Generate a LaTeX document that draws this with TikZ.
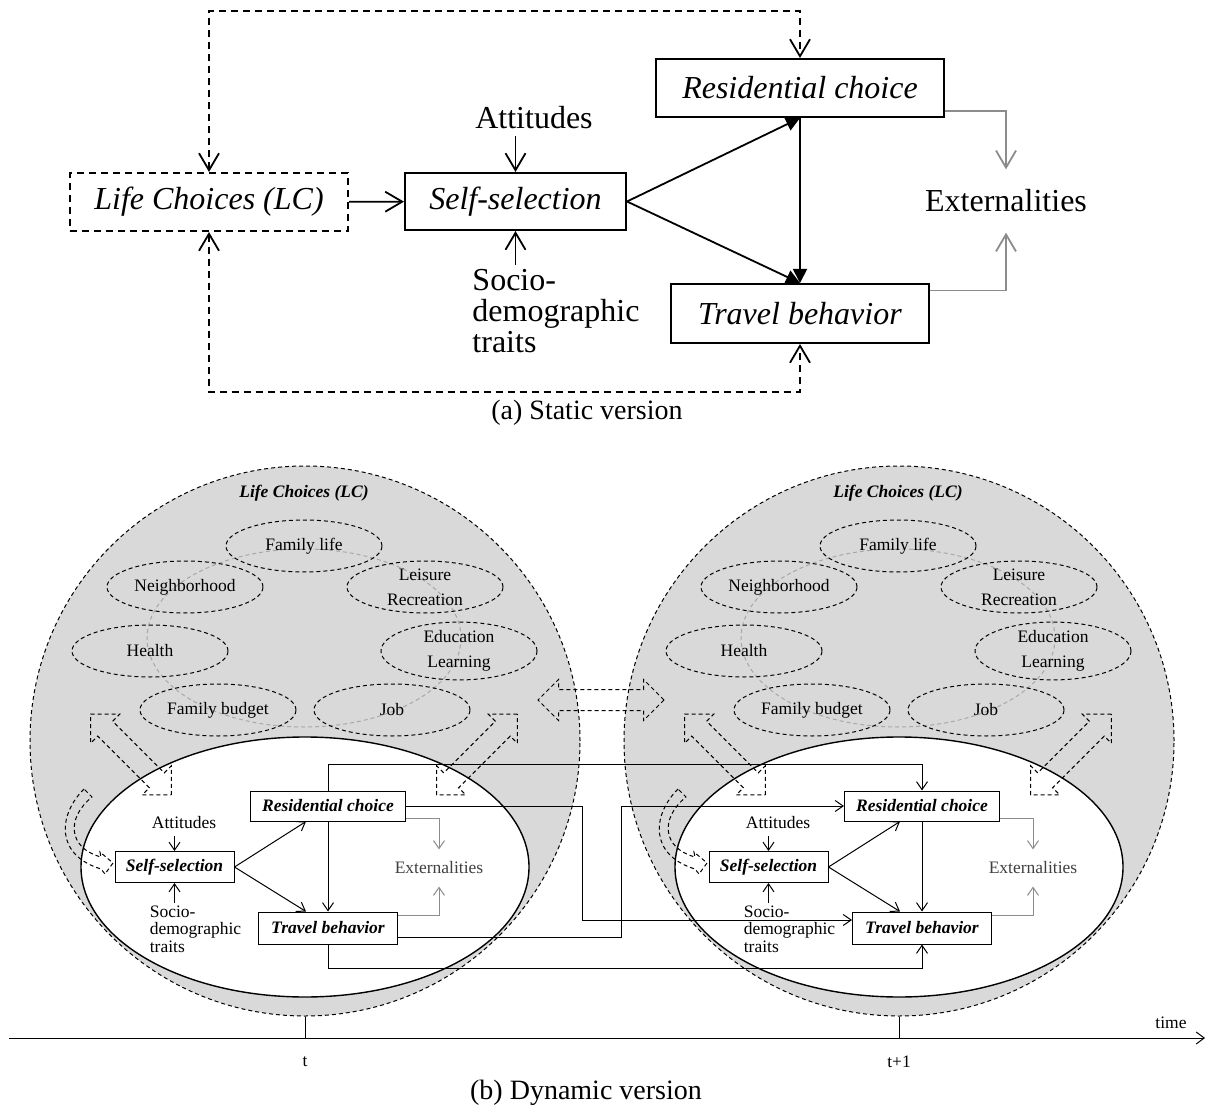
\documentclass[tikz,border=0pt]{standalone}
\usepackage{fontspec}
\setmainfont{Liberation Serif}
\usepackage{xcolor}
\usetikzlibrary{arrows.meta,shapes.geometric,shapes.arrows}

\definecolor{lcfill}{HTML}{D9D9D9}
\definecolor{extline}{HTML}{8C8C8C}
\definecolor{ringline}{HTML}{A8A8A8}
\definecolor{exttext}{HTML}{404040}

\begin{document}
\begin{tikzpicture}[x=0.5pt, y=-0.5pt,
  bigtxt/.style = {font=\fontsize{16}{15.5}\selectfont},
  smalltxt/.style = {font=\fontsize{8.75}{8.75}\selectfont},
  captxt/.style = {font=\fontsize{14}{16}\selectfont},
  bigbox/.style = {draw, line width=1pt, inner sep=0pt, font=\fontsize{16}{15.5}\selectfont\itshape},
  smallbox/.style = {draw, fill=white, line width=0.5pt, inner sep=0pt, font=\fontsize{8.75}{8.75}\selectfont\bfseries\itshape},
  bigarr/.style = {line width=0.9pt, -{Straight Barb[length=8.5pt,width=10pt]}},
  fullarr/.style = {line width=0.9pt, -{Triangle[length=7pt,width=7pt]}},
  lcdash/.style = {line width=0.9pt, dash pattern=on 3.5pt off 2.5pt, {Straight Barb[length=8.5pt,width=10pt]}-{Straight Barb[length=8.5pt,width=10pt]}},
  extarr/.style = {draw=extline, line width=0.9pt, -{Straight Barb[length=8.5pt,width=10pt]}},
  smallarr/.style = {line width=0.5pt, -{Straight Barb[length=4pt,width=5.5pt]}},
  smallext/.style = {draw=extline, line width=0.5pt, -{Straight Barb[length=4pt,width=5.5pt]}},
  thindash/.style = {line width=0.5pt, dash pattern=on 2pt off 1.5pt},
  lcball/.style = {circle, draw, thindash, fill=lcfill, minimum size=275pt, inner sep=0pt},
  ring/.style = {ellipse, draw=ringline, thindash, minimum width=157pt, minimum height=89pt, inner sep=0pt},
  choice/.style = {ellipse, draw, thindash, minimum width=78pt, minimum height=26pt, inner sep=0pt, align=center, font=\fontsize{8.75}{12.5}\selectfont},
  habit/.style = {ellipse, draw, fill=white, line width=0.7pt, minimum width=224pt, minimum height=130pt, inner sep=0pt},
  swaparr/.style = {double arrow, draw, thindash, minimum width=20pt, minimum height=57pt, double arrow head extend=5pt, inner xsep=0pt, inner ysep=5pt}]
\useasboundingbox (0,0) rectangle (1210,1112);

\node[bigbox, dash pattern=on 3.5pt off 2.5pt, minimum width=139pt, minimum height=29pt] (lc) at (209,202) {Life Choices (LC)};
\node[bigbox, minimum width=110.5pt, minimum height=28.5pt] (self) at (515.5,201.5) {Self-selection};
\node[bigbox, minimum width=144pt, minimum height=29pt] (res) at (800,88) {Residential choice};
\node[bigbox, minimum width=129pt, minimum height=29.5pt] (trav) at (800,313.5) {Travel behavior};
\node[bigtxt] (att) at (534,118) {Attitudes};
\node[bigtxt, align=left, inner sep=2pt] (soc) at (556,311) {Socio-\\demographic\\traits};
\node[bigtxt, inner ysep=10pt] (ext) at (1006,201) {Externalities};
\node[captxt] (capa) at (587,413) {(a) Static version};
\draw[bigarr] (lc) -- (self);
\draw[bigarr] (att.south -| self) -- (self);
\draw[bigarr] (soc.north -| self) -- (self);
\draw[fullarr] (self.east) -- (res.south);
\draw[fullarr] (self.east) -- (trav.north);
\draw[fullarr] (res) -- (trav);
\draw[lcdash] (lc.north) -- ++(0,-161) -| (res.north);
\draw[lcdash] (lc.south) -- ++(0,160) -| (trav.south);
\draw[extarr] ([yshift=-11.5pt]res.east) -| (ext.north);
\draw[extarr] ([yshift=11.5pt]trav.east) -| (ext.south);

\foreach \s/\dx in {l/0, r/594} {
\begin{scope}[shift={(\dx,0)}]
\node[lcball] (ball\s) at (305,741) {};
\node[font=\fontsize{8.75}{8.75}\selectfont\bfseries\itshape] (lctitle\s) at (304,493) {Life Choices (LC)};
\node[ring] (ring\s) at (304,638) {};
\node[choice] (family\s) at (304,546) {Family life};
\node[choice] (neigh\s) at (185,587) {Neighborhood};
\node[choice] (leisure\s) at (425,587) {Leisure\\Recreation};
\node[choice] (health\s) at (150,651) {Health};
\node[choice] (educ\s) at (459,651) {Education\\Learning};
\node[choice] (budget\s) at (218,710) {Family budget};
\node[choice] (job\s) at (392,710) {Job};
\node[habit] (habit\s) at (305,867) {};
\node[swaparr, rotate=-45] (upl\s) at (131,754.5) {};
\node[swaparr, rotate=45] (upr\s) at (477,754.5) {};
\draw[thindash] (84,789) .. controls (58,815) and (55,855) .. (101,869) -- (105,874) -- (113,863) -- (100,852) -- (101,857) .. controls (68,848) and (66,818) .. (92,797) -- cycle;
\node[smallbox, minimum width=77.5pt, minimum height=15pt] (res\s) at (328,806) {Residential choice};
\node[smallbox, minimum width=59.5pt, minimum height=15.5pt] (self\s) at (174.5,867) {Self-selection};
\node[smallbox, minimum width=69.5pt, minimum height=16pt] (trav\s) at (328,928) {Travel behavior};
\node[smalltxt] (att\s) at (184,823) {Attitudes};
\node[smalltxt, align=left, inner sep=1pt] (soc\s) at (195.5,929) {Socio-\\demographic\\traits};
\node[smalltxt, text=exttext, inner ysep=6pt] (ext\s) at (439,868) {Externalities};
\draw[smallarr] (att\s.south -| self\s) -- (self\s);
\draw[smallarr] (soc\s.north -| self\s) -- (self\s);
\draw[smallarr] (self\s.east) -- ([xshift=-11pt]res\s.south);
\draw[smallarr] (self\s.east) -- ([xshift=-11pt]trav\s.north);
\draw[smallarr] (res\s) -- (trav\s);
\draw[smallext] ([yshift=-6pt]res\s.east) -| (ext\s.north);
\draw[smallext] ([yshift=6.5pt]trav\s.east) -| (ext\s.south);
\end{scope}
}

\node[swaparr, minimum height=63pt] (swap) at (601,700) {};
\draw[smallarr] (resl.north) -- ++(0,-26) -| (resr.north);
\draw[smallarr] (resl.east) -- ++(176,0) |- ([yshift=4pt]travr.west);
\draw[smallarr] ([yshift=-4.5pt]travl.east) -- ++(223,0) |- (resr.west);
\draw[smallarr] (travl.south) -- ++(0,24) -| (travr.south);

\coordinate (t0) at (9,1038);
\coordinate (t1) at (1205,1038);
\draw[line width=0.5pt, -{Straight Barb[length=4pt,width=6pt]}] (t0) -- (t1);
\draw[line width=0.5pt] (balll.south) -- (balll.south |- t0);
\draw[line width=0.5pt] (ballr.south) -- (ballr.south |- t0);
\node[smalltxt] (tnow) at (305,1062) {t};
\node[smalltxt] (tnext) at (899,1062) {t+1};
\node[smalltxt] (time) at (1171,1023) {time};
\node[captxt] (capb) at (586,1093) {(b) Dynamic version};
\end{tikzpicture}
\end{document}
